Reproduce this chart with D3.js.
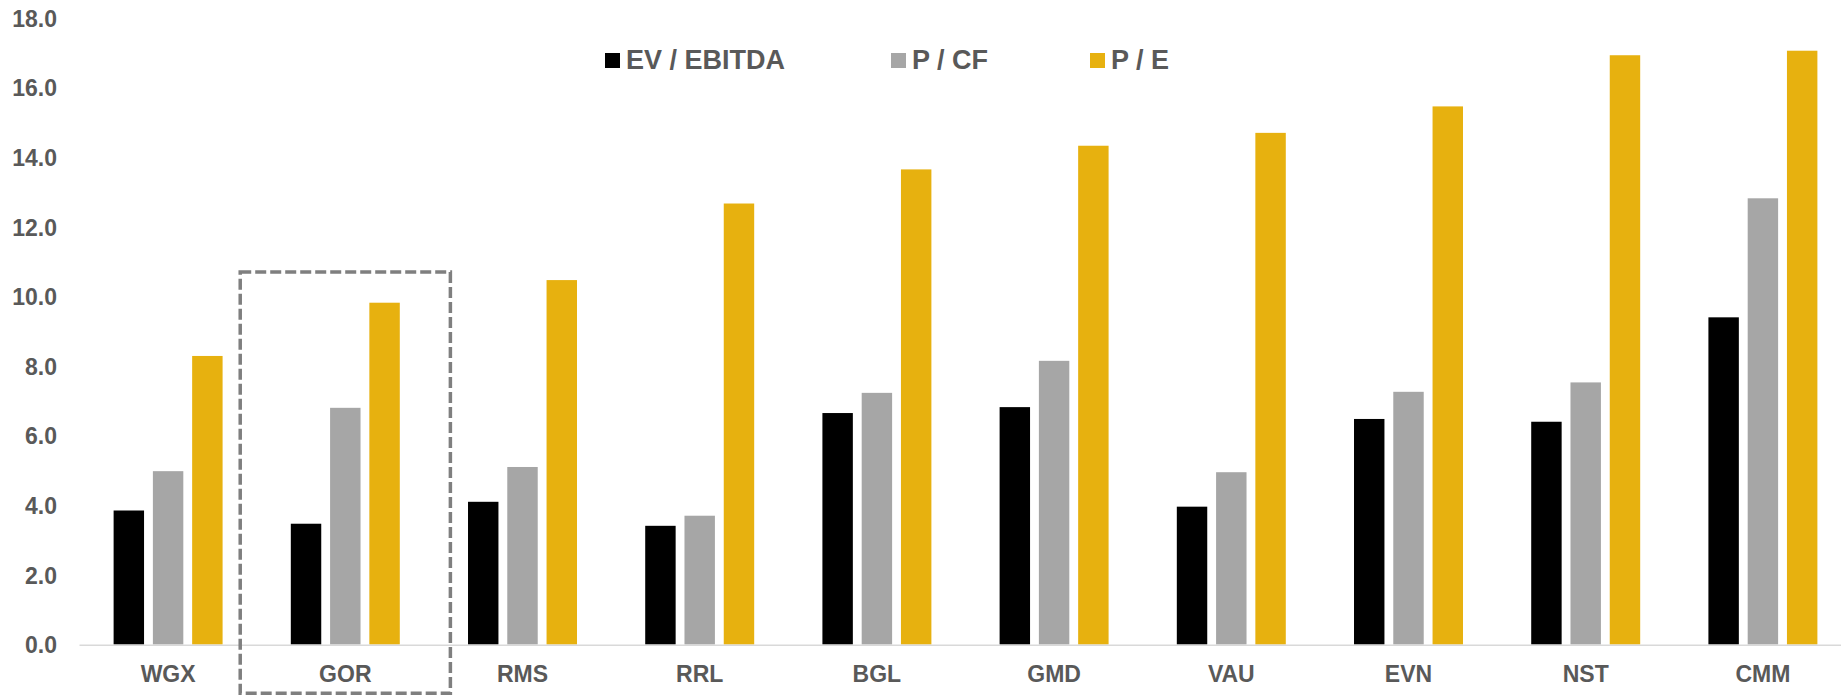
<!DOCTYPE html>
<html>
<head>
<meta charset="utf-8">
<script src="https://cdnjs.cloudflare.com/ajax/libs/d3/7.8.5/d3.min.js"></script>
<style>
  body { margin: 0; background: #fff; }
  .chart text { font-family: "Liberation Sans", Arial, sans-serif; font-weight: bold; fill: #595959; }
</style>
</head>
<body>
<div class="chart"></div>
<script>
var companies = ["WGX", "GOR", "RMS", "RRL", "BGL", "GMD", "VAU", "EVN", "NST", "CMM"];
var seriesNames = ["EV / EBITDA", "P / CF", "P / E"];
var evEbitda = [3.85, 3.47, 4.10, 3.41, 6.65, 6.82, 3.96, 6.48, 6.40, 9.40];
var pCf = [4.98, 6.80, 5.10, 3.70, 7.23, 8.15, 4.95, 7.26, 7.53, 12.82];
var pE = [8.29, 9.82, 10.47, 12.67, 13.65, 14.33, 14.70, 15.46, 16.93, 17.06];
var yTicks = [0, 2, 4, 6, 8, 10, 12, 14, 16, 18];
var highlight = "GOR";

var colors = ["#000000", "#a6a6a6", "#e7b10f"];

var svgWidth = 1841;
var svgHeight = 698;

var data = companies.map(function(c, i) {
    return { name: c, values: [evEbitda[i], pCf[i], pE[i]] };
});

var svg = d3.select(".chart")
    .append("svg")
    .attr("width", svgWidth)
    .attr("height", svgHeight);

var x0 = d3.scaleBand()
    .domain(companies)
    .range([79.5, 1851.5])
    .paddingInner(0.385)
    .paddingOuter(0.1925);

var x1 = d3.scaleBand()
    .domain(d3.range(seriesNames.length))
    .range([0, x0.bandwidth()])
    .paddingInner(0.225);

var y = d3.scaleLinear()
    .domain([0, 18])
    .range([644.5, 18]);

// y tick labels (no axis line in the original)
var leftAxis = d3.axisLeft(y)
    .tickValues(yTicks)
    .tickFormat(d3.format(".1f"))
    .tickSize(0)
    .tickPadding(0);

svg.append("g")
    .attr("transform", "translate(57,0)")
    .call(leftAxis)
    .call(function(g) { g.select(".domain").remove(); })
    .selectAll("text")
    .style("font-size", "23px")
    .attr("dy", "0.36em");

// bars
var groups = svg.selectAll(".group")
    .data(data)
    .enter().append("g")
    .attr("class", "group")
    .attr("transform", function(d) { return "translate(" + x0(d.name) + ",0)"; });

groups.selectAll("rect")
    .data(function(d) { return d.values; })
    .enter().append("rect")
    .attr("x", function(d, i) { return x1(i); })
    .attr("y", function(d) { return y(d); })
    .attr("width", x1.bandwidth())
    .attr("height", function(d) { return y(0) - y(d); })
    .attr("fill", function(d, i) { return colors[i]; });

// baseline
svg.append("line")
    .attr("x1", 79.5)
    .attr("x2", svgWidth)
    .attr("y1", y(0) + 0.75)
    .attr("y2", y(0) + 0.75)
    .attr("stroke", "#d9d9d9")
    .attr("stroke-width", 1.6);

// category labels
var bottomAxis = d3.axisBottom(x0).tickSize(0).tickPadding(0);
svg.append("g")
    .attr("transform", "translate(0," + y(0) + ")")
    .call(bottomAxis)
    .call(function(g) { g.select(".domain").remove(); })
    .selectAll("text")
    .style("font-size", "23px")
    .attr("dy", null)
    .attr("y", 37);

// dashed highlight box around GOR
var cx = x0(highlight) + x0.bandwidth() / 2;
var halfW = x0.step() * 0.593;
svg.append("rect")
    .attr("x", cx - halfW)
    .attr("y", y(10.7))
    .attr("width", halfW * 2)
    .attr("height", y(-1.4) - y(10.7))
    .attr("fill", "none")
    .attr("stroke", "#7f7f7f")
    .attr("stroke-width", 3.5)
    .attr("stroke-dasharray", "11,4");

// legend
var legendX = [605, 891, 1090];
var legend = svg.selectAll(".legend")
    .data(seriesNames)
    .enter().append("g")
    .attr("class", "legend")
    .attr("transform", function(d, i) { return "translate(" + legendX[i] + ",53)"; });

legend.append("rect")
    .attr("width", 15)
    .attr("height", 15)
    .attr("fill", function(d, i) { return colors[i]; });

legend.append("text")
    .attr("x", 21)
    .attr("y", 16)
    .style("font-size", "27px")
    .text(function(d) { return d; });
</script>
</body>
</html>
